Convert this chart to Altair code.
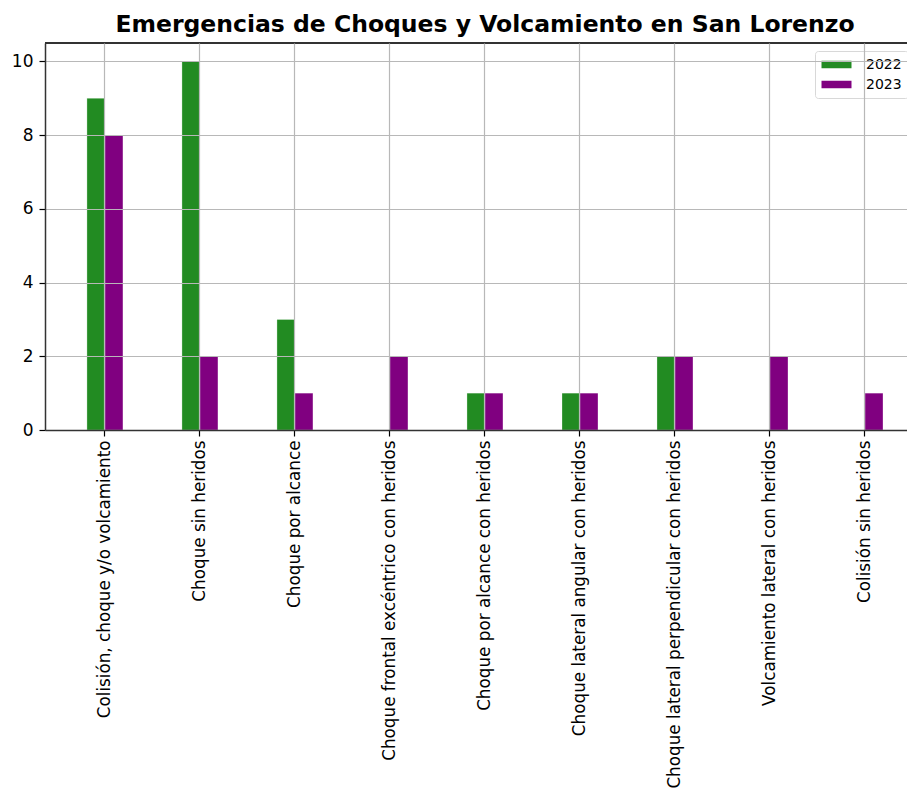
import altair as alt
import pandas as pd

categories = [
    "Colisión, choque y/o volcamiento",
    "Choque sin heridos",
    "Choque por alcance",
    "Choque frontal excéntrico con heridos",
    "Choque por alcance con heridos",
    "Choque lateral angular con heridos",
    "Choque lateral perpendicular con heridos",
    "Volcamiento lateral con heridos",
    "Colisión sin heridos",
]
values_2022 = [9, 10, 3, 0, 1, 1, 2, 0, 0]
values_2023 = [8, 2, 1, 2, 1, 1, 2, 2, 1]
years = ["2022", "2023"]
colors = ["#228B22", "#800080"]
y_ticks = [0, 2, 4, 6, 8, 10]

rows = []
for c, a, b in zip(categories, values_2022, values_2023):
    rows.append({"cat": c, "year": years[0], "val": a})
    rows.append({"cat": c, "year": years[1], "val": b})
df = pd.DataFrame(rows)

W, H = 862, 387
FONT = "DejaVu Sans"

bars = alt.Chart(df).mark_bar(stroke="white", strokeWidth=0.5, strokeOpacity=0.6).encode(
    x=alt.X("cat:N", sort=categories, title=None,
            scale=alt.Scale(paddingInner=0.621, paddingOuter=0.347, align=0.636),
            axis=alt.Axis(labelAngle=-90, labelFontSize=16.8, labelFont=FONT, labelColor="#000",
                          grid=True, gridColor="#b8b8b8", gridWidth=1.2, bandPosition=0.5,
                          tickColor="#000", tickSize=6, tickWidth=1.2, labelPadding=4,
                          domainColor="#333", domainWidth=1.5, zindex=1, labelLimit=1000,
                          labelAlign="right", labelBaseline="middle")),
    xOffset=alt.XOffset("year:N", sort=years, scale=alt.Scale(paddingInner=0, paddingOuter=0)),
    y=alt.Y("val:Q", title=None,
            scale=alt.Scale(domain=[0, 10.5], nice=False),
            axis=alt.Axis(values=y_ticks, labelFontSize=17, labelFont=FONT, labelColor="#000",
                          grid=True, gridColor="#b8b8b8", gridWidth=1.2,
                          tickColor="#000", tickSize=6, tickWidth=1.2, labelPadding=6,
                          domainColor="#333", domainWidth=1.5, zindex=1)),
    color=alt.Color("year:N", sort=years, scale=alt.Scale(domain=years, range=colors),
                    legend=alt.Legend(title=None, orient="none", legendX=770, legendY=8,
                                      strokeColor="#d8d8d8", fillColor="white", padding=6,
                                      cornerRadius=3, labelFontSize=14, labelFont=FONT,
                                      labelColor="#000", rowPadding=5, labelOffset=22,
                                      symbolOffset=8,
                                      symbolType="M-2,-0.5L2,-0.5L2,0.5L-2,0.5Z",
                                      symbolSize=225, symbolStrokeWidth=0)),
)

top_spine = alt.Chart(df).mark_rule(color="#333", strokeWidth=1.5).encode(
    x=alt.value(0), x2=alt.value(W), y=alt.value(0)
)

chart = alt.layer(bars, top_spine).properties(
    width=W, height=H,
    autosize=alt.AutoSizeParams(type="none"),
    padding={"left": 37, "top": 35, "right": 0, "bottom": 366},
    title=alt.Title("Emergencias de Choques y Volcamiento en San Lorenzo",
                    fontSize=23.5, font=FONT, fontWeight="bold", color="#000",
                    anchor="middle", offset=6, dx=9),
).configure_view(stroke=None)

chart.save("out.html", embed_options={"renderer": "svg", "actions": False})
